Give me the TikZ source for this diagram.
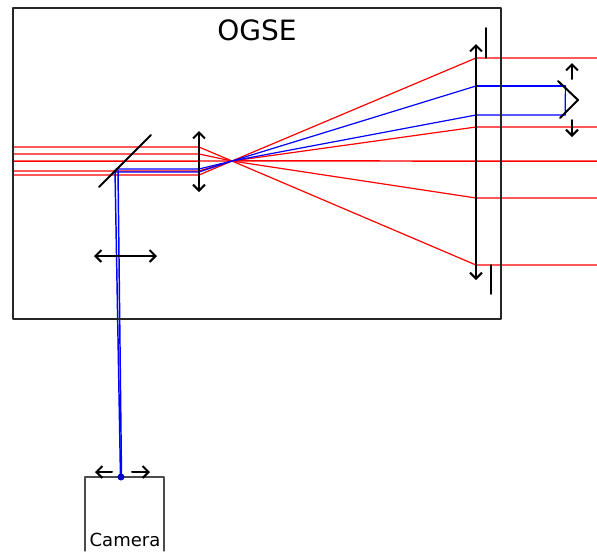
\documentclass[tikz,border=0pt]{standalone}
\usepackage{fontspec}
\setmainfont{DejaVu Sans}
\usetikzlibrary{arrows.meta}
\tikzset{
	redray/.style={color=red,line width=0.9pt},
	blueray/.style={color=blue,line width=0.9pt},
	optic/.style={line width=1.5pt,{Straight Barb[length=4.5pt,width=9pt]}-{Straight Barb[length=4.5pt,width=9pt]}},
	shift arrow/.style={line width=1.5pt,-{Straight Barb[length=4.5pt,width=9pt]}},
}
\begin{document}
\begin{tikzpicture}[x=0.75pt,y=-0.75pt,line join=round,line cap=round]
	\useasboundingbox (0,0) rectangle (597,551);
	\def\fx{232} \def\fy{161} % focus
	\def\lx{199} \def\mx{476} % lenses
	% rays
	\foreach \y/\Y in {147/58,154/127,171/198,175/265}{
		\draw[redray] (13,\y)--(\lx,\y)--(\fx,\fy)--(\mx,\Y)--(597,\Y);
	}
	\draw[redray,line width=1.1pt] (13,161.2)--(305,160.9)--(597,161.2);
	\foreach \y/\Y in {169/86,172/115}{
		\draw[blueray] (116,\y)--(\lx,\y)--(\fx,\fy)--(\mx,\Y)--(565,\Y);
	}
	\draw[blueray,line width=1.2pt] (\mx,86)--(565,86);
	\draw[blueray] (565.4,86)--(565.2,115);
	\draw[blueray,line width=1.1pt] (115,170)--(120.5,477);
	\draw[blueray,line width=1.1pt] (118,170)--(121.5,477);
	% OGSE box
	\draw[color=black!85,line width=1.2pt] (13,8) rectangle (501,319);
	\node (ogse) at (257,30) {\fontsize{21}{21}\selectfont OGSE};
	% optics
	\draw[line width=1.4pt] (99,187)--(151,135);
	\draw[optic] (\lx,131)--(\lx,192);
	\draw[optic] (94,256)--(157,256);
	\draw[optic] (\mx,44)--(\mx,280);
	\draw[line width=1.2pt] (486,28)--(486,58) (491,265)--(491,294);
	\draw[line width=1.5pt] (558,81)--(578,100)--(560,118);
	\draw[shift arrow] (572,79)--(572,63);
	\draw[shift arrow] (572,120)--(572,137);
	% camera
	\draw[color=black!70,line width=0.9pt] (85,551)--(85,477)--(164,477)--(164,551);
	\node (camera) at (125,540) {\fontsize{13.5}{14}\selectfont Camera};
	\draw[shift arrow] (112,472)--(95,472);
	\draw[shift arrow] (132,472)--(150,472);
	\fill[color=blue!80!black] (121,477) circle (3.5);
\end{tikzpicture}
\end{document}
